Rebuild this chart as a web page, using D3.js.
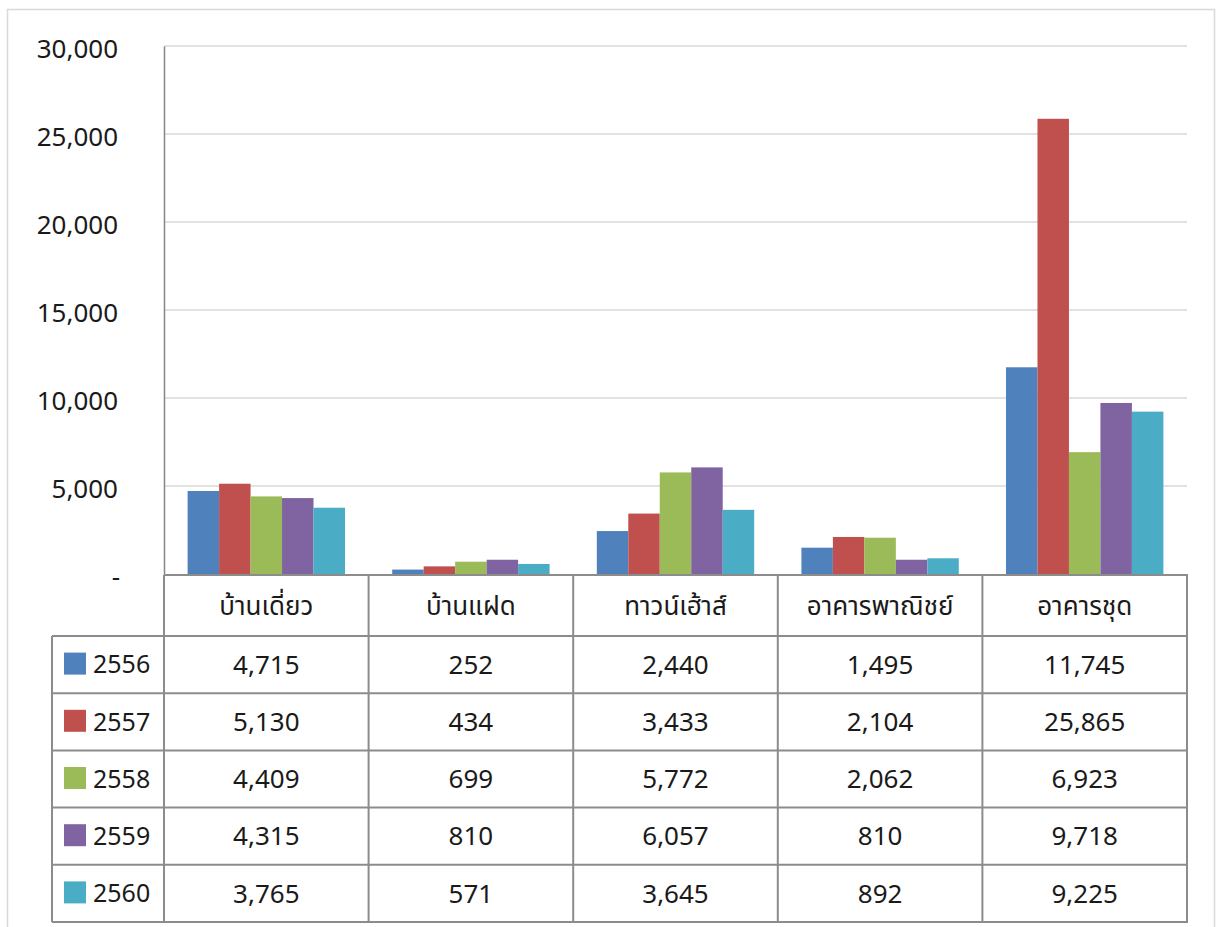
<!DOCTYPE html>
<html>
<head>
<meta charset="utf-8">
<script src="https://cdn.jsdelivr.net/npm/d3@7/dist/d3.min.js"></script>
<style>
  html, body { margin: 0; padding: 0; background: #fff; }
  svg text { font-family: "Noto Sans Thai", "Leelawadee UI", "Noto Sans", "DejaVu Sans", sans-serif; fill: #1a1a1a; }
</style>
</head>
<body>
<svg id="chart" width="1216" height="927"></svg>
<script>
// Building permits by type, years 2556–2560 (B.E.)
const categories = ["บ้านเดี่ยว", "บ้านแฝด", "ทาวน์เฮ้าส์", "อาคารพาณิชย์", "อาคารชุด"];
const years = ["2556", "2557", "2558", "2559", "2560"];
const values2556 = [4715, 252, 2440, 1495, 11745];
const values2557 = [5130, 434, 3433, 2104, 25865];
const values2558 = [4409, 699, 5772, 2062, 6923];
const values2559 = [4315, 810, 6057, 810, 9718];
const values2560 = [3765, 571, 3645, 892, 9225];
const yTicks = [0, 5000, 10000, 15000, 20000, 25000, 30000];
const colors = ["#4F81BD", "#C0504D", "#9BBB59", "#8064A2", "#4BACC6"];

const seriesValues = [values2556, values2557, values2558, values2559, values2560];
const series = years.map((y, i) => ({ year: y, color: colors[i], values: seriesValues[i] }));

const svg = d3.select("#chart");

// chart frame
svg.append("rect")
  .attr("x", 7.5).attr("y", 9.5).attr("width", 1207).attr("height", 930)
  .attr("fill", "none").attr("stroke", "#d9d9d9").attr("stroke-width", 1.5);

const plot = { left: 164, right: 1187, top: 46, bottom: 574 };
const table = { headerTop: 575, headerBottom: 636, rowH: 57.2, legendLeft: 52 };

const x0 = d3.scaleBand().domain(categories).range([plot.left, plot.right]).padding(0);
const bw = x0.bandwidth();
const barW = bw / 6.5;
const x1 = d3.scaleBand().domain(years).range([barW * 0.75, bw - barW * 0.75]).padding(0);
const y = d3.scaleLinear().domain([0, 30000]).range([plot.bottom, plot.top]);

const fmt = d3.format(",");

// gridlines
svg.append("g")
  .selectAll("line")
  .data(yTicks.filter(t => t > 0))
  .join("line")
  .attr("x1", plot.left).attr("x2", plot.right)
  .attr("y1", d => y(d)).attr("y2", d => y(d))
  .attr("stroke", "#d9d9d9").attr("stroke-width", 1.6);

// y axis
const yAxis = d3.axisLeft(y)
  .tickValues(yTicks)
  .tickSize(0)
  .tickPadding(46)
  .tickFormat(d => d === 0 ? "-" : fmt(d));
const gy = svg.append("g").attr("transform", `translate(${plot.left},0)`).call(yAxis);
gy.select(".domain").attr("stroke", "#868686").attr("stroke-width", 1.5);
gy.selectAll("text").attr("font-size", 26).attr("fill", "#1a1a1a").attr("dy", "0.45em");
gy.selectAll(".tick").filter(d => d === 0).select("text").attr("dx", "2");

// bars
const groups = svg.append("g").selectAll("g")
  .data(categories)
  .join("g")
  .attr("transform", d => `translate(${x0(d)},0)`);

groups.selectAll("rect")
  .data((c, ci) => series.map(s => ({ year: s.year, color: s.color, value: s.values[ci] })))
  .join("rect")
  .attr("x", d => x1(d.year))
  .attr("width", x1.bandwidth())
  .attr("y", d => y(d.value))
  .attr("height", d => y(0) - y(d.value))
  .attr("fill", d => d.color);

// data table
const tbl = svg.append("g");
const lineColor = "#8c8c8c";
const lw = 2;
const rowsBottom = table.headerBottom + table.rowH * years.length;

// header cells
tbl.selectAll("text.hdr")
  .data(categories)
  .join("text")
  .attr("class", "hdr")
  .attr("x", d => x0(d) + bw / 2)
  .attr("y", (table.headerTop + table.headerBottom) / 2)
  .attr("dy", "0.35em")
  .attr("text-anchor", "middle")
  .attr("font-size", 26)
  .text(d => d);

// value cells
series.forEach((s, si) => {
  const cy = table.headerBottom + table.rowH * (si + 0.5);
  tbl.append("rect")
    .attr("x", 64).attr("y", cy - 12).attr("width", 22).attr("height", 22)
    .attr("fill", s.color);
  tbl.append("text")
    .attr("x", 93).attr("y", cy).attr("dy", "0.35em")
    .attr("font-size", 25)
    .text(s.year);
  tbl.selectAll(null)
    .data(categories)
    .join("text")
    .attr("x", d => x0(d) + bw / 2)
    .attr("y", cy)
    .attr("dy", "0.35em")
    .attr("text-anchor", "middle")
    .attr("font-size", 26)
    .text((d, ci) => fmt(s.values[ci]));
});

// table grid: horizontal lines
const hLines = [{ y: table.headerTop, x1: plot.left }];
for (let i = 0; i <= years.length; i++) {
  hLines.push({ y: table.headerBottom + table.rowH * i, x1: table.legendLeft });
}
tbl.selectAll("line.h")
  .data(hLines)
  .join("line")
  .attr("x1", d => d.x1).attr("x2", plot.right + 1)
  .attr("y1", d => d.y).attr("y2", d => d.y)
  .attr("stroke", lineColor).attr("stroke-width", lw);

// vertical lines
const vx = categories.map(c => x0(c)).concat([plot.right]);
tbl.selectAll("line.v")
  .data(vx)
  .join("line")
  .attr("x1", d => d).attr("x2", d => d)
  .attr("y1", table.headerTop).attr("y2", rowsBottom)
  .attr("stroke", lineColor).attr("stroke-width", lw);
tbl.append("line")
  .attr("x1", table.legendLeft).attr("x2", table.legendLeft)
  .attr("y1", table.headerBottom).attr("y2", rowsBottom)
  .attr("stroke", lineColor).attr("stroke-width", lw);
</script>
</body>
</html>
